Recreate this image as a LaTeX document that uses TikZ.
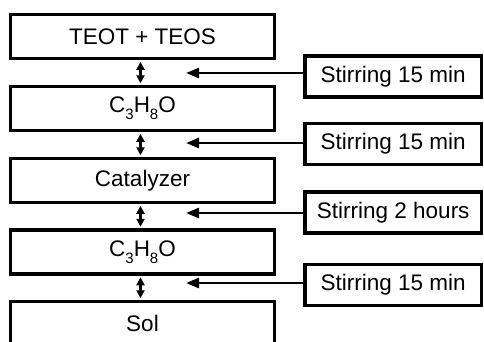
\documentclass[tikz,border=0pt]{standalone}
\usepackage{fontspec}
\setmainfont{Liberation Sans}
\usetikzlibrary{arrows.meta}
\newcommand{\sbs}[1]{\raisebox{-0.3em}{\fontsize{15}{15}\selectfont #1}}
\begin{document}
\begin{tikzpicture}[x=1pt,y=-1pt,
  leftbox/.style={draw, line width=3.3pt, minimum width=264pt, minimum height=44pt, inner sep=0pt, font=\fontsize{22.5}{27}\selectfont},
  rightbox/.style={draw, line width=3.3pt, minimum width=176.5pt, minimum height=41pt, inner sep=0pt, font=\fontsize{22.5}{27}\selectfont},
  dbl/.style={line width=2.4pt, {Triangle[length=8pt,width=8pt]}-{Triangle[length=8pt,width=8pt]}, shorten <=1.6pt, shorten >=1.6pt},
  feed/.style={line width=2.8pt, -{Triangle[length=13pt,width=10pt]}}]
\useasboundingbox (0,0) rectangle (484,341);
\clip (0,0) rectangle (484,341);
\fill[white] (0,0) rectangle (484,341);
\node[leftbox] (b1) at (142.5,36.5) {TEOT + TEOS};
\node[leftbox] (b2) at (142.5,108.5) {C\sbs{3}H\sbs{8}O};
\node[leftbox] (b3) at (142.5,180.5) {Catalyzer};
\node[leftbox] (b4) at (142.5,252) {C\sbs{3}H\sbs{8}O};
\node[leftbox] (b5) at (142.5,323.5) {Sol};
\node[rightbox] (s1) at (393.25,76.5) {Stirring 15 min};
\node[rightbox] (s2) at (393.25,144) {Stirring 15 min};
\node[rightbox] (s3) at (393.25,212.5) {Stirring 2 hours};
\node[rightbox] (s4) at (393.25,285) {Stirring 15 min};
\coordinate (vx) at (140.5,0);
\draw[dbl] (b1.south -| vx) -- (b2.north -| vx);
\draw[dbl] (b2.south -| vx) -- (b3.north -| vx);
\draw[dbl] (b3.south -| vx) -- (b4.north -| vx);
\draw[dbl] (b4.south -| vx) -- (b5.north -| vx);
\coordinate (t1) at (186,73);
\coordinate (t2) at (186,143);
\coordinate (t3) at (186,213);
\coordinate (t4) at (186,283);
\draw[feed] (t1 -| s1.west) -- (t1);
\draw[feed] (t2 -| s2.west) -- (t2);
\draw[feed] (t3 -| s3.west) -- (t3);
\draw[feed] (t4 -| s4.west) -- (t4);
\end{tikzpicture}
\end{document}
